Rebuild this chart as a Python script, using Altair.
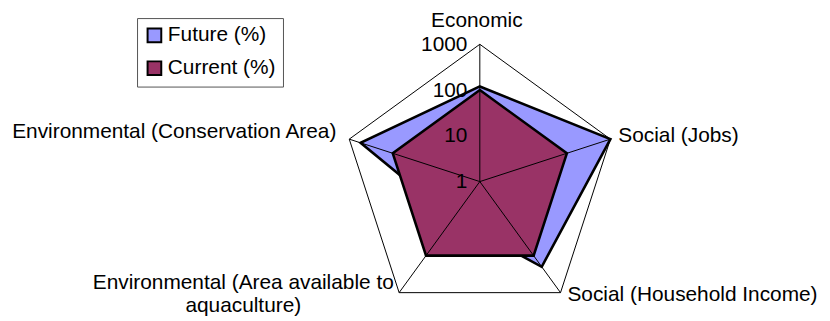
import altair as alt
import pandas as pd

categories = [
    "Economic",
    "Social (Jobs)",
    "Social (Household Income)",
    "Environmental (Area available to\naquaculture)",
    "Environmental (Conservation Area)",
]
future = [120, 1000, 200, 10, 550]
current = [100, 100, 100, 100, 100]
tick_values = [1, 10, 100, 1000]
tick_labels = ["1", "10", "100", "1000"]
series_names = ["Future (%)", "Current (%)"]
series_colors = ["#9999FF", "#993366"]

FONT = "Liberation Sans"
N = len(categories)

axes_df = pd.DataFrame({"idx": list(range(N)), "category": categories})
rows = []
for name, vals in zip(series_names, [future, current]):
    for i, v in enumerate(vals):
        rows.append({"series": name, "idx": i, "category": categories[i], "value": v})
series_df = pd.DataFrame(rows)
ticks_df = pd.DataFrame({"value": tick_values, "label": tick_labels})

xs = alt.Scale(domain=[-3.4367, 2.4924], nice=False, zero=False)
ys = alt.Scale(domain=[-1.0072, 1.256], nice=False, zero=False)

ang = "datum.idx * 2 * PI / %d" % N
rad = "log(datum.value) / LN10 / 3"

axes_base = alt.Chart(axes_df).transform_calculate(
    ox="sin(" + ang + ")", oy="cos(" + ang + ")", cx="0", cy="0"
)

spokes = axes_base.mark_rule(color="black", strokeWidth=1).encode(
    x=alt.X("cx:Q", scale=xs, axis=None),
    y=alt.Y("cy:Q", scale=ys, axis=None),
    x2="ox:Q",
    y2="oy:Q",
)

frame = axes_base.mark_line(
    interpolate="linear-closed", color="black", strokeWidth=1
).encode(
    x=alt.X("ox:Q", scale=xs, axis=None),
    y=alt.Y("oy:Q", scale=ys, axis=None),
    order="idx:O",
)

fill_scale = alt.Scale(domain=series_names, range=series_colors)
legend = alt.Legend(
    title=None,
    orient="none",
    legendX=130,
    legendY=9,
    symbolType="square",
    symbolSize=190,
    symbolStrokeColor="black",
    symbolStrokeWidth=2,
    symbolOpacity=1,
    labelFont=FONT,
    labelFontSize=21,
    labelColor="black",
    labelOffset=3,
    strokeColor="#555555",
    padding=7,
    rowPadding=10,
)


def polygon(name):
    return (
        alt.Chart(series_df)
        .transform_filter(alt.datum.series == name)
        .transform_calculate(px=rad + " * sin(" + ang + ")", py=rad + " * cos(" + ang + ")")
        .mark_line(interpolate="linear-closed", stroke="black", strokeWidth=2.6,
                   strokeJoin="miter", fillOpacity=1)
        .encode(
            x=alt.X("px:Q", scale=xs, axis=None),
            y=alt.Y("py:Q", scale=ys, axis=None),
            fill=alt.Fill("series:N", scale=fill_scale, legend=legend),
            order="idx:O",
        )
    )


poly_future = polygon(series_names[0])
poly_current = polygon(series_names[1])

tick_text = (
    alt.Chart(ticks_df)
    .transform_calculate(tx="0", ty="log(datum.value) / LN10 / 3")
    .mark_text(align="right", baseline="middle", dx=-12.5, dy=0.5,
               font=FONT, fontSize=21, color="black")
    .encode(
        x=alt.X("tx:Q", scale=xs, axis=None),
        y=alt.Y("ty:Q", scale=ys, axis=None),
        text="label:N",
    )
)

label_styles = [
    dict(align="center", dx=-3, dy=-23, lineHeight=23),
    dict(align="left", dx=8, dy=-3, lineHeight=23),
    dict(align="left", dx=7, dy=2, lineHeight=23),
    dict(align="center", dx=-157, dy=-10, lineHeight=23),
    dict(align="right", dx=-13, dy=-7, lineHeight=23),
]

label_layers = []
for i, st in enumerate(label_styles):
    label_layers.append(
        axes_base.transform_filter(alt.datum.idx == i)
        .mark_text(baseline="middle", font=FONT, fontSize=21, color="black",
                   lineBreak="\n", **st)
        .encode(
            x=alt.X("ox:Q", scale=xs, axis=None),
            y=alt.Y("oy:Q", scale=ys, axis=None),
            text="category:N",
        )
    )

chart = (
    alt.layer(frame, poly_future, poly_current, spokes, tick_text, *label_layers)
    .properties(width=820, height=313, padding=0,
                autosize=alt.AutoSizeParams(type="none"), background="white")
    .configure_view(stroke=None)
)

chart.save("out.html", embed_options={"renderer": "svg", "actions": False})
